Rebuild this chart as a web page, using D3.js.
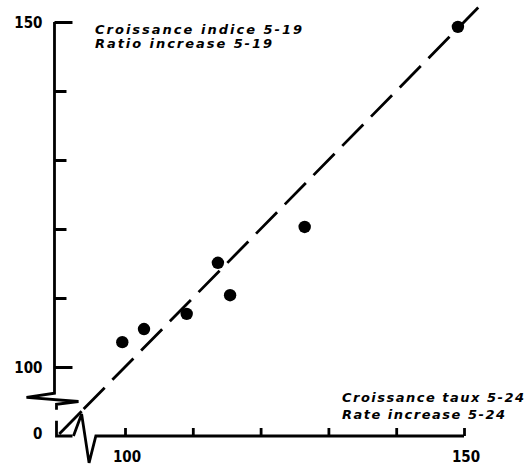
<!DOCTYPE html>
<html>
<head>
<meta charset="utf-8">
<script src="https://cdn.jsdelivr.net/npm/d3@7"></script>
<style>
  html, body { margin: 0; padding: 0; background: #fff; }
  svg { display: block; }
  .num { font-family: "DejaVu Sans Condensed", "Liberation Sans Narrow", sans-serif; font-weight: bold; font-size: 15px; }
  .lab { font-family: "DejaVu Sans", sans-serif; font-weight: bold; font-style: oblique; font-size: 13px; }
</style>
</head>
<body>
<div class="visContainer"></div>
<script>
const w = 530;
const h = 467;

// rate increase 5-24 (x) vs ratio increase 5-19 (y)
const rateIncrease = [99.6, 102.8, 109.1, 113.7, 115.5, 126.5, 149.1];
const ratioIncrease = [103.6, 105.5, 107.7, 115.1, 110.4, 120.3, 149.3];
const xTicks = [100, 110, 120, 130, 140, 150];
const yTicks = [100, 110, 120, 130, 140, 150];
const xTickLabels = ['100', '150'];
const yTickLabels = ['100', '150'];
const yLabel = ['Croissance indice 5-19', 'Ratio increase 5-19'];
const xLabel = ['Croissance taux 5-24', 'Rate increase 5-24'];

const svg = d3
	.select('.visContainer')
	.append('svg')
	.attr('width', w)
	.attr('height', h);

const xScale = d3.scaleLinear().domain([100, 150]).range([125, 464]);
const yScale = d3.scaleLinear().domain([100, 150]).range([367, 22]);

const x0 = xScale(89.6); // broken origin
const y0 = yScale(90);

// y axis
const yAxis = d3.axisRight(yScale).tickValues(yTicks).tickSize(12).tickFormat('');
const yAxisGroup = svg
	.append('g')
	.attr('id', 'y-axis')
	.attr('transform', `translate(${x0}, 0)`)
	.call(yAxis);
yAxisGroup.select('.domain').remove();
yAxisGroup.selectAll('.tick line').attr('stroke-width', 3);
yAxisGroup.selectAll('.tick').filter((d) => d == 150 || d == 100).select('line').attr('x2', 18);

const line = d3.line();
const blk = (sel) => sel.attr('fill', 'none').attr('stroke', '#000').attr('stroke-width', 2.8).attr('stroke-linejoin', 'miter');

// y axis line with break
svg.append('path').call(blk).attr('d', line([
	[x0, yScale(150)], [x0, yScale(96.2)],
	[x0 - 28, yScale(95.6)], [x0 + 24, yScale(95.0)],
	[x0 + 2, yScale(94.6)], [x0 + 2, yScale(93.8)]
]));
// corner piece
svg.append('path').call(blk).attr('d', line([
	[x0 + 2, yScale(92.2)], [x0 + 2, y0], [x0 + 18, y0]
]));

// x axis
const xAxis = d3.axisTop(xScale).tickValues(xTicks).tickSize(8).tickFormat('');
const xAxisGroup = svg
	.append('g')
	.attr('id', 'x-axis')
	.attr('transform', `translate(0, ${y0})`)
	.call(xAxis);
xAxisGroup.select('.domain').remove();
xAxisGroup.selectAll('.tick line').attr('stroke-width', 2.8);

// x axis line with break
svg.append('path').call(blk).attr('d', line([
	[xScale(92.4), y0], [xScale(93.6), yScale(93.2)],
	[xScale(94.7), yScale(86.1)], [xScale(95.7), y0],
	[xScale(150), y0]
]));

// tick labels
svg.selectAll('.ylab')
	.data(yTickLabels)
	.enter()
	.append('text')
	.attr('class', 'num')
	.attr('x', x0 - 12)
	.attr('y', (d) => yScale(+d) + 6)
	.attr('text-anchor', 'end')
	.text((d) => d);
svg.append('text').attr('class', 'num').attr('x', x0 - 12).attr('y', y0 + 3).attr('text-anchor', 'end').text('0');

svg.selectAll('.xlab')
	.data(xTickLabels)
	.enter()
	.append('text')
	.attr('class', 'num')
	.attr('x', (d) => xScale(+d) + 2)
	.attr('y', y0 + 26)
	.attr('text-anchor', 'middle')
	.text((d) => d);

// axis titles
const yLabLen = [207, 177];
svg.selectAll('.ytitle')
	.data(yLabel)
	.enter()
	.append('text')
	.attr('class', 'lab')
	.attr('x', 95)
	.attr('y', (d, i) => 34 + i * 14)
	.attr('textLength', (d, i) => yLabLen[i])
	.attr('lengthAdjust', 'spacing')
	.text((d) => d);

const xLabLen = [182, 163];
svg.selectAll('.xtitle')
	.data(xLabel)
	.enter()
	.append('text')
	.attr('class', 'lab')
	.attr('x', 342)
	.attr('y', (d, i) => 402 + i * 17)
	.attr('textLength', (d, i) => xLabLen[i])
	.attr('lengthAdjust', 'spacing')
	.text((d) => d);

// reference line y = x
svg.append('path').call(blk).attr('d', line([
	[xScale(90.3), yScale(90.3)], [xScale(93.6), yScale(93.6)]
]));
svg.append('path').call(blk)
	.attr('stroke-dasharray', '30,11')
	.attr('d', line([[xScale(152.1), yScale(152.1)], [xScale(93.6), yScale(93.6)]]));

// points
svg.selectAll('circle')
	.data(rateIncrease)
	.enter()
	.append('circle')
	.attr('cx', (d) => xScale(d))
	.attr('cy', (d, i) => yScale(ratioIncrease[i]))
	.attr('r', 6.2)
	.attr('fill', '#000');
</script>
</body>
</html>
